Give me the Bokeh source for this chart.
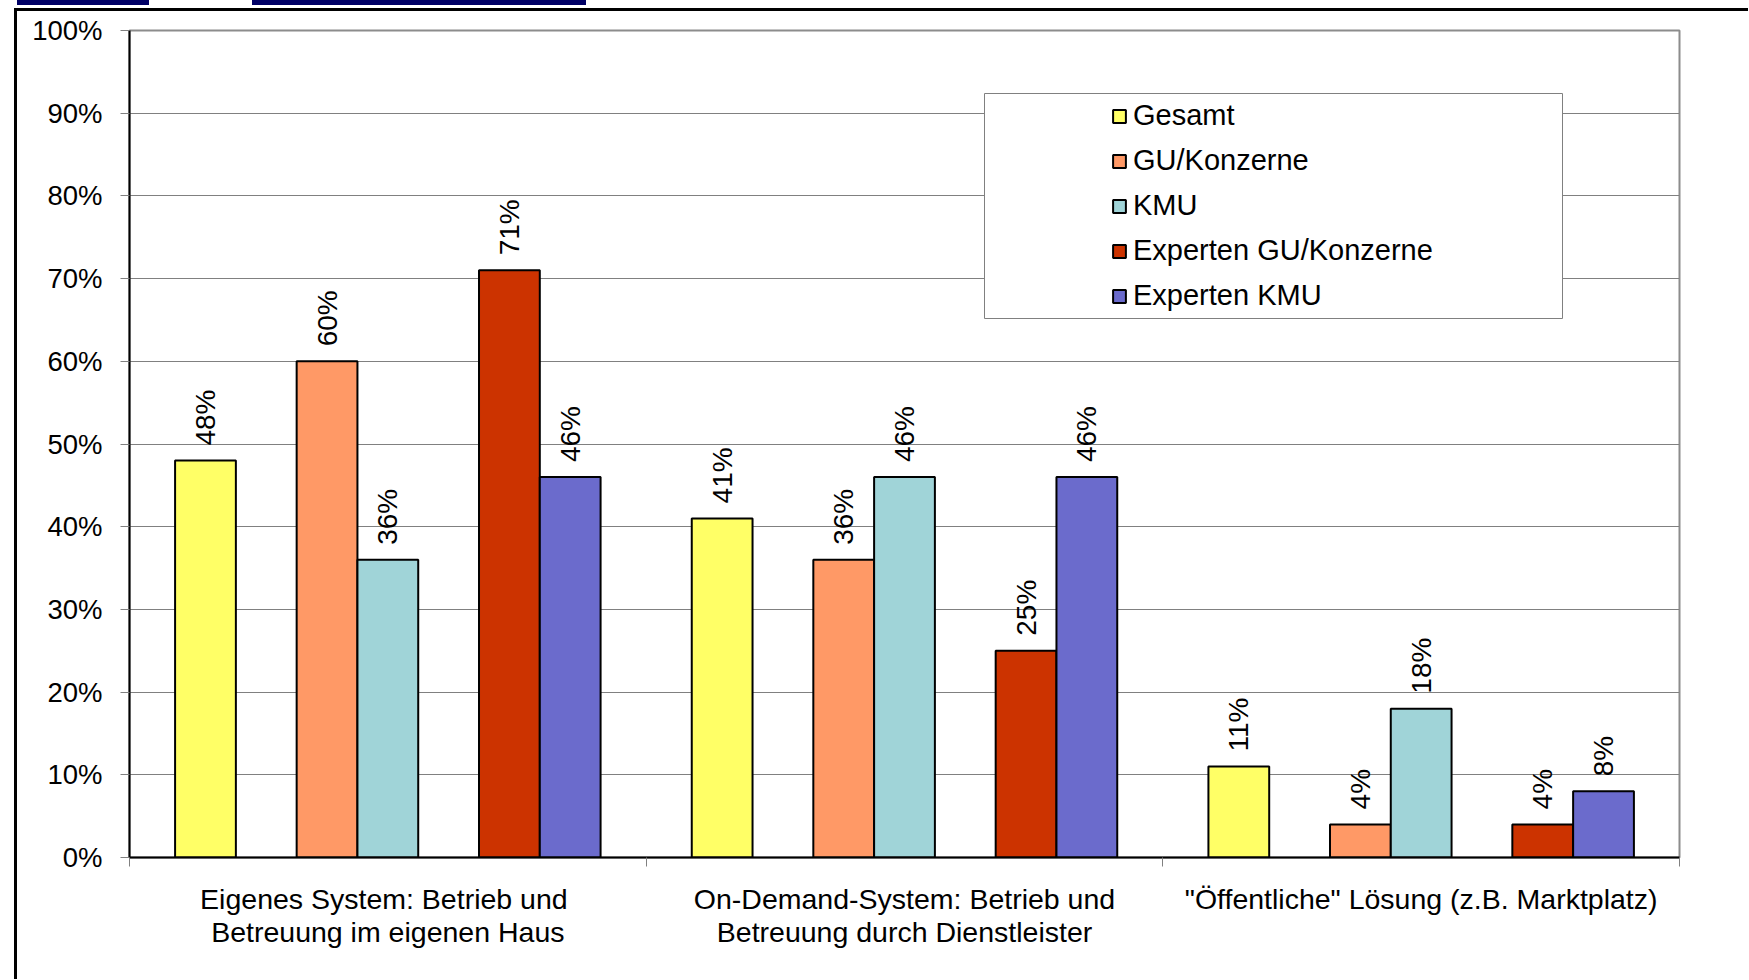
import math
from bokeh.plotting import figure
from bokeh.models import (ColumnDataSource, Range1d, FixedTicker, LinearAxis, Grid,
                          LabelSet, Legend, LegendItem, BoxAnnotation)
from bokeh.core.properties import value
from bokeh.transform import dodge
from bokeh.embed import file_html
from bokeh.resources import INLINE

# ---------------- data ----------------
categories = [
    "Eigenes System: Betrieb  und\nBetreuung im eigenen Haus",
    "On-Demand-System: Betrieb und\nBetreuung durch Dienstleister",
    "\"Öffentliche\" Lösung (z.B. Marktplatz)",
]
series_names = ["Gesamt", "GU/Konzerne", "KMU", "Experten GU/Konzerne", "Experten KMU"]
gesamt = [48, 41, 11]
gu_konzerne = [60, 36, 4]
kmu = [36, 46, 18]
experten_gu_konzerne = [71, 25, 4]
experten_kmu = [46, 46, 8]
y_ticks = [0, 10, 20, 30, 40, 50, 60, 70, 80, 90, 100]
y_tick_labels = ["0%", "10%", "20%", "30%", "40%", "50%", "60%", "70%", "80%", "90%", "100%"]

# ---------------- styles ----------------
colors = ["#FFFF66", "#FF9966", "#A0D4D8", "#CC3300", "#6B6BCC"]
slots = [0, 2, 3, 5, 6]          # 7 slots per group (2 empty), gap 150%
slot_w = 1 / 8.5
FONT = "Liberation Sans"

series_values = [gesamt, gu_konzerne, kmu, experten_gu_konzerne, experten_kmu]
keys = ["s0", "s1", "s2", "s3", "s4"]
centers = [i + 0.5 for i in range(len(categories))]
data = {"xc": centers}
for k, vals in zip(keys, series_values):
    data[k] = vals
    data[k + "_lbl"] = [f"{v}%" for v in vals]
source = ColumnDataSource(data)

W, H = 1741, 972
p = figure(width=W, height=H, x_range=Range1d(0, 3), y_range=Range1d(0, 100),
           output_backend="svg", toolbar_location=None,
           x_axis_type=None, y_axis_type=None,
           min_border_left=129, min_border_right=62, min_border_top=30, min_border_bottom=115)
p.background_fill_color = "white"
p.border_fill_color = "white"
p.outline_line_color = "#8c8c8c"
p.outline_line_width = 2

# slide decoration around the chart: navy title bars and black frame (pure CSS)
p.stylesheets = ["""
:host { position: relative; }
:host::before {
  content: ""; position: absolute; left: 17px; top: 0px; width: 569px; height: 4.5px;
  background: linear-gradient(to right, #000066 0px, #000066 132px, transparent 132px,
                              transparent 235px, #000066 235px, #000066 569px);
  z-index: 100; pointer-events: none;
}
:host::after {
  content: ""; position: absolute; left: 13.5px; top: 7.5px; width: 1734px; height: 971px;
  border-left: 3px solid black; border-top: 3px solid black; box-sizing: border-box;
  z-index: 100; pointer-events: none;
}
"""]

# y axis
yaxis = LinearAxis(ticker=FixedTicker(ticks=y_ticks, minor_ticks=[]),
                   major_label_overrides=dict(zip(y_ticks, y_tick_labels)))
yaxis.axis_line_color = "black"
yaxis.axis_line_width = 2
yaxis.major_tick_out = 9
yaxis.major_tick_in = 0
yaxis.major_tick_line_color = "#808080"
yaxis.minor_tick_line_color = None
yaxis.major_label_text_font = FONT
yaxis.major_label_text_font_size = "27.5px"
yaxis.major_label_text_color = "black"
yaxis.major_label_standoff = 18
p.add_layout(yaxis, "left")
p.add_layout(Grid(dimension=1, ticker=yaxis.ticker, grid_line_color="#808080",
                  grid_line_width=1))

# x axis (labels at group centres, separator ticks at boundaries)
xaxis = LinearAxis(ticker=FixedTicker(ticks=centers, minor_ticks=[0, 1, 2, 3]),
                   major_label_overrides=dict(zip(centers, categories)))
xaxis.axis_line_color = "black"
xaxis.axis_line_width = 2
xaxis.major_tick_line_color = None
xaxis.major_tick_out = 0
xaxis.major_tick_in = 0
xaxis.minor_tick_out = 9
xaxis.minor_tick_in = 0
xaxis.minor_tick_line_color = "#808080"
xaxis.major_label_text_font = FONT
xaxis.major_label_text_font_size = "28.5px"
xaxis.major_label_text_line_height = 1.05
xaxis.major_label_text_color = "black"
xaxis.major_label_standoff = 16
p.add_layout(xaxis, "below")

# bars + value labels
items = []
for k, name, color, slot in zip(keys, series_names, colors, slots):
    off = (slot - 3) * slot_w
    r = p.vbar(x=dodge("xc", off), top=k, width=slot_w, source=source,
               fill_color=color, line_color="black", line_width=2)
    items.append(LegendItem(label=name, renderers=[r]))
    p.add_layout(LabelSet(x=dodge("xc", off), y=k, text=k + "_lbl", source=source,
                          angle=math.pi / 2, text_align="left", text_baseline="middle",
                          y_offset=15, text_font=value(FONT), text_font_size=value("28px"),
                          text_color="black"))

# legend box
p.add_layout(BoxAnnotation(left=984, right=1562, top=93, bottom=318,
                           left_units="canvas", right_units="canvas",
                           top_units="canvas", bottom_units="canvas",
                           fill_color="white", fill_alpha=1,
                           line_color="#808080", line_width=1, line_alpha=1))

legend = Legend(items=items, location=(982, 545), orientation="vertical")
legend.padding = 0
legend.margin = 0
legend.border_line_alpha = 0
legend.background_fill_alpha = 0
legend.glyph_width = 16
legend.glyph_height = 16
legend.label_standoff = 6
legend.label_height = 33
legend.spacing = 12
legend.label_text_font = FONT
legend.label_text_font_size = "29px"
legend.label_text_color = "black"
p.add_layout(legend, "center")

open("out.html", "w").write(file_html(p, INLINE))
